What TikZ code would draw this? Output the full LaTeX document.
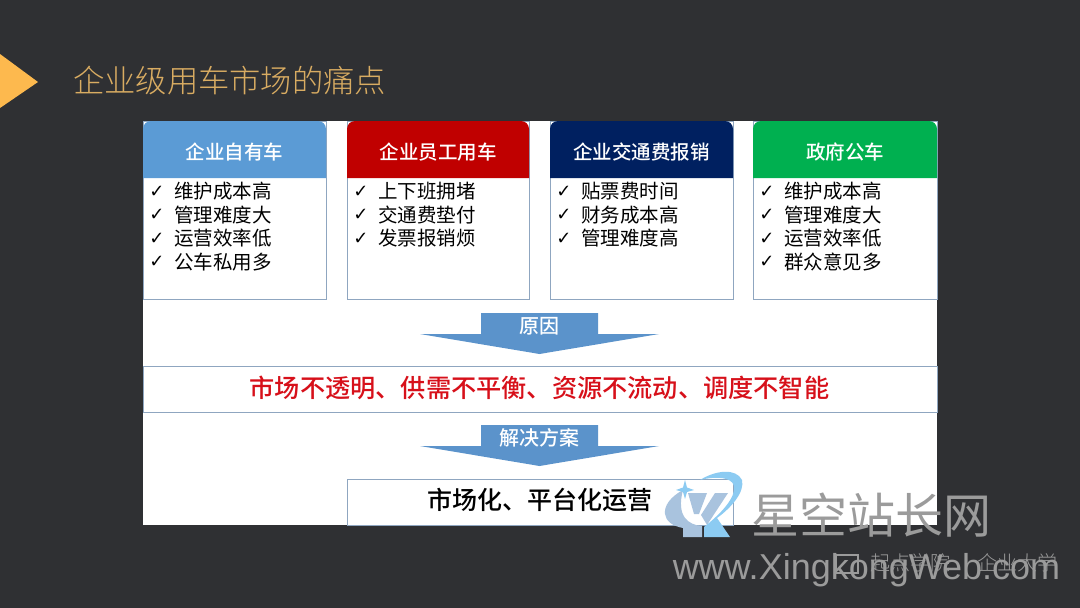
\documentclass[tikz,border=0pt]{standalone}
\usepackage{fontspec}
\setmainfont{Noto Sans CJK SC}
\newfontfamily\titlefont{Noto Sans CJK SC Light}
\newfontfamily\medfont{Noto Sans CJK SC Medium}
\newfontfamily\latinfont{Liberation Sans}
\newfontfamily\symfont{DejaVu Sans}
\definecolor{bgdark}{HTML}{2F3033}
\definecolor{gold}{HTML}{FDB94E}
\definecolor{titlegold}{HTML}{D9AC62}
\definecolor{edgeblue}{HTML}{8FA6C0}
\definecolor{headblue}{HTML}{5B9BD5}
\definecolor{headred}{HTML}{C00000}
\definecolor{headnavy}{HTML}{002060}
\definecolor{headgreen}{HTML}{00B050}
\definecolor{arrowblue}{HTML}{5B93CB}
\definecolor{alarmred}{HTML}{D7101A}
\definecolor{wmgray}{HTML}{9B9B9B}
\definecolor{logolight}{HTML}{8CCBF2}
\definecolor{logomid}{HTML}{A9C3DE}
\tikzset{
  x=1pt,y=-1pt,
  cardbody/.style={draw=edgeblue,line width=1pt,fill=white},
  headtext/.style={text=white,font=\medfont\fontsize{19.5}{19.5}\selectfont,anchor=center,inner sep=0pt},
  listtext/.style={text=black,font=\fontsize{19.5}{19.5}\selectfont,anchor=west,inner sep=0pt},
  checktext/.style={text=black,font=\symfont\bfseries\fontsize{18}{18}\selectfont,anchor=center,inner sep=0pt},
  barbox/.style={draw=edgeblue,line width=1pt,fill=white},
  arrowlabel/.style={text=white,font=\medfont\fontsize{20}{20}\selectfont,anchor=center,inner sep=0pt},
}
\newcommand{\cardshape}[5]{% x1,x2,colour,title,name
  \draw[cardbody] (#1,121) rectangle (#2,299);
  \fill[#3] (#1,178) -- (#1,129) arc[start angle=180,end angle=90,x radius=8,y radius=-8] -- ({#2-8},121) arc[start angle=90,end angle=0,x radius=8,y radius=-8] -- (#2,178) -- cycle;
  \node[headtext] (#5) at ({(#1+#2)/2},152) {#4};
}
\newcommand{\listitem}[4]{% x, y, text, name
  \node[checktext] (#4c) at ({#1+14},#2) {✓};
  \node[listtext] (#4) at ({#1+31},#2) {#3};
}
\newcommand{\downarrowshape}[3]{% top y, label, name
  \fill[arrowblue] (481,#1) -- (598,#1) -- (598,{#1+21}) -- (659,{#1+21}) -- (539.5,{#1+41}) -- (420,{#1+21}) -- (481,{#1+21}) -- cycle;
  \node[arrowlabel] (#3) at (539.5,{#1+13}) {#2};
}
\begin{document}
\begin{tikzpicture}
\useasboundingbox (0,0) rectangle (1080,608);
\fill[bgdark] (0,0) rectangle (1080,608);
\fill[gold] (0,54) -- (38,82) -- (0,108) -- cycle;
\node[text=titlegold,font=\titlefont\fontsize{31.3}{31.3}\selectfont,anchor=west,inner sep=0pt] (title) at (73,81) {企业级用车市场的痛点};
\fill[white] (143,121) rectangle (937,525);

\cardshape{143}{326}{headblue}{企业自有车}{h1}
\cardshape{347}{529}{headred}{企业员工用车}{h2}
\cardshape{550}{733}{headnavy}{企业交通费报销}{h3}
\cardshape{753}{937}{headgreen}{政府公车}{h4}

\listitem{143}{191.5}{维护成本高}{a1}
\listitem{143}{215}{管理难度大}{a2}
\listitem{143}{238.5}{运营效率低}{a3}
\listitem{143}{262}{公车私用多}{a4}
\listitem{347}{191.5}{上下班拥堵}{b1}
\listitem{347}{215}{交通费垫付}{b2}
\listitem{347}{238.5}{发票报销烦}{b3}
\listitem{550}{191.5}{贴票费时间}{c1}
\listitem{550}{215}{财务成本高}{c2}
\listitem{550}{238.5}{管理难度高}{c3}
\listitem{753}{191.5}{维护成本高}{d1}
\listitem{753}{215}{管理难度大}{d2}
\listitem{753}{238.5}{运营效率低}{d3}
\listitem{753}{262}{群众意见多}{d4}

\downarrowshape{313}{原因}{ar1}
\draw[barbox] (143,366) rectangle (937,412);
\node[text=alarmred,font=\medfont\fontsize{25.2}{25.2}\selectfont,inner sep=0pt] (cause) at (539.5,388) {市场不透明、供需不平衡、资源不流动、调度不智能};
\downarrowshape{425}{解决方案}{ar2}
\draw[barbox] (347,479) rectangle (733,525);
\node[text=black,font=\medfont\fontsize{25}{25}\selectfont,inner sep=0pt] (plan) at (539.5,500) {市场化、平台化运营};

% watermark logo
\fill[logomid] (683,490) .. controls (670,497) and (664,506) .. (665,514) .. controls (666,521) and (672,526) .. (683,528) -- (683,537) -- (702,537) -- (702,526) .. controls (688,525) and (676,516) .. (683,490) -- cycle;
\fill[logomid] (688,493) -- (707,493) -- (699,514) -- (694,514) -- cycle;
\fill[logomid] (715,493) -- (728,493) -- (707,525) -- (701,515) -- cycle;
\fill[logolight] (700,480) .. controls (716,470) and (736,468) .. (742,480) .. controls (745,492) and (731,508) .. (717,518) -- (730,537) -- (704,537) -- (704,527) .. controls (722,513) and (736,497) .. (734,486) .. controls (732,477) and (716,476) .. (700,480) -- cycle;
\fill[logolight] (685,480) -- (687,487.5) -- (694,490) -- (687,492) -- (685,499) -- (683,492) -- (676,490) -- (683,487.5) -- cycle;

\node[text=wmgray,font=\fontsize{48}{48}\selectfont,inner sep=0pt] (wm1) at (871,515) {星空站长网};
\draw[wmgray,line width=2pt] (836,555) rectangle (858,573);
\node[text=wmgray,font=\titlefont\fontsize{20}{20}\selectfont,anchor=west,inner sep=0pt] (wm3) at (870,563) {起点学院};
\node[text=wmgray,font=\titlefont\fontsize{20}{20}\selectfont,anchor=west,inner sep=0pt] (wm4) at (977,563) {企业大学};
\node[text=wmgray,font=\latinfont\fontsize{36}{36}\selectfont,inner sep=0pt] (wm2) at (866.5,570) {www.XingkongWeb.com};
\end{tikzpicture}
\end{document}
